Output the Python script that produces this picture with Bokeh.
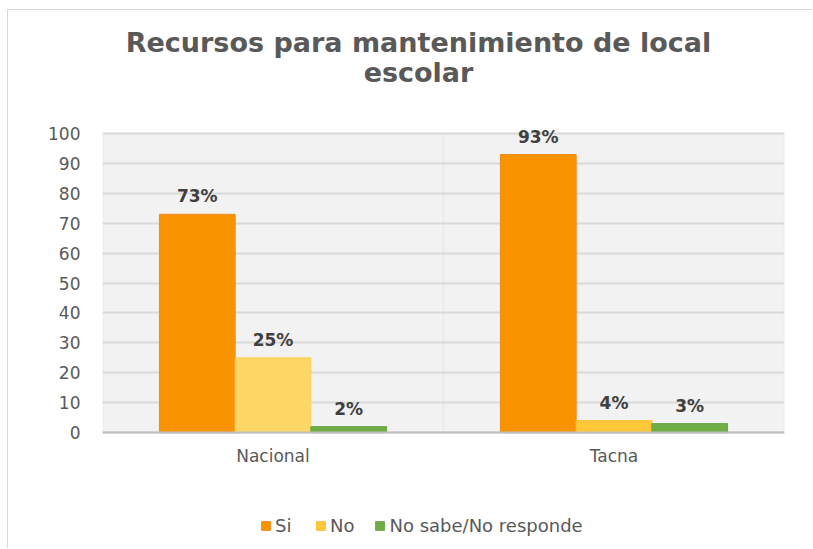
from bokeh.plotting import figure
from bokeh.models import (ColumnDataSource, FixedTicker, LabelSet, Legend, LegendItem,
                          Range1d, Label, BoxAnnotation)
from bokeh.transform import dodge
from bokeh.core.properties import value
from bokeh.embed import file_html
from bokeh.resources import INLINE

# ---- data ----
categories = ["Nacional", "Tacna"]
series_names = ["Si", "No", "No sabe/No responde"]
si_values = [73, 93]
no_values = [25, 4]
ns_values = [2, 3]
y_ticks = [0, 10, 20, 30, 40, 50, 60, 70, 80, 90, 100]
title_lines = ["Recursos para mantenimiento de local", "escolar"]

# ---- styles / layout ----
si_fill = ["#fa9300", "#fa9300"]
si_edge = ["#f38a1c", "#f38a1c"]
no_fill = ["#fdd766", "#ffc83a"]
no_edge = ["#fdd05a", "#ffc030"]
ns_fill = ["#70ad47", "#70ad47"]
ns_edge = ["#6aa743", "#6aa743"]
offsets = [-0.222, 0.0, 0.222]
bar_w = 0.222
FONT = "DejaVu Sans"
y_max = y_ticks[-1]
PX_PER_UNIT = 2.99           # 100 units = 299 px
FRAME_H = 539
Y_LOW = -39.1
Y_HIGH = Y_LOW + FRAME_H / PX_PER_UNIT
title_x = 316 / 341.0        # title centre, in category units
title_px_above_zero = [390, 360]   # baselines of the two title lines above y=0

positions = [i + 0.5 for i in range(len(categories))]

p = figure(width=805, height=539,
           x_range=Range1d(0, len(categories)), y_range=Range1d(Y_LOW, Y_HIGH),
           output_backend="svg", toolbar_location=None,
           min_border_left=94, min_border_right=29,
           min_border_top=0, min_border_bottom=0)
p.title.visible = False

p.background_fill_color = "white"
p.border_fill_color = "white"
p.outline_line_color = None

# grey plot area with border, 0..100
p.add_layout(BoxAnnotation(bottom=0, top=y_max, fill_color="#f2f2f2", fill_alpha=1,
                           line_color="#d9d9d9", line_width=2, level="image"))
# divider between categories
for b in range(1, len(categories)):
    p.add_layout(BoxAnnotation(left=b, right=b, bottom=0, top=y_max, fill_alpha=0,
                               line_color="#d9d9d9", line_width=2, level="underlay"))

p.ygrid.ticker = FixedTicker(ticks=y_ticks)
p.ygrid.grid_line_color = "#d9d9d9"
p.ygrid.grid_line_width = 2
p.xgrid.grid_line_color = None

p.yaxis.ticker = FixedTicker(ticks=y_ticks)
p.yaxis.axis_line_color = None
p.yaxis.major_tick_line_color = None
p.yaxis.minor_tick_line_color = None
p.yaxis.major_label_standoff = 16
p.yaxis.major_label_text_font = FONT
p.yaxis.major_label_text_font_size = "17px"
p.yaxis.major_label_text_color = "#595959"

p.xaxis.fixed_location = 0
p.xaxis.ticker = FixedTicker(ticks=positions)
p.xaxis.major_label_overrides = {pos: cat for pos, cat in zip(positions, categories)}
p.xaxis.axis_line_color = "#bfbfbf"
p.xaxis.axis_line_width = 2
p.xaxis.major_tick_line_color = None
p.xaxis.minor_tick_line_color = None
p.xaxis.major_label_standoff = 7
p.xaxis.major_label_text_font = FONT
p.xaxis.major_label_text_font_size = "17px"
p.xaxis.major_label_text_color = "#595959"

# title: two centred lines
for line, px in zip(title_lines, title_px_above_zero):
    p.add_layout(Label(x=title_x, y=px / PX_PER_UNIT, text=line,
                       text_align="center", text_baseline="alphabetic",
                       text_font=FONT, text_font_size="27px", text_font_style="bold",
                       text_color="#595959"))

renderers = []
for name, vals, fills, edges, off in zip(series_names,
                                          [si_values, no_values, ns_values],
                                          [si_fill, no_fill, ns_fill],
                                          [si_edge, no_edge, ns_edge],
                                          offsets):
    src = ColumnDataSource(dict(x=positions, top=vals, fill=fills, edge=edges,
                                label=[f"{v}%" for v in vals]))
    r = p.vbar(x=dodge("x", off), top="top", width=bar_w, source=src,
               fill_color="fill", line_color="edge", line_width=1)
    renderers.append(r)
    p.add_layout(LabelSet(x=dodge("x", off), y="top", text="label", source=src,
                          y_offset=8, text_align="center", text_baseline="bottom",
                          text_font=value(FONT), text_font_style="bold",
                          text_font_size="17px", text_color="#404040"))

legend = Legend(items=[LegendItem(label=series_names[0], renderers=[renderers[0]], index=0),
                       LegendItem(label=series_names[1], renderers=[renderers[1]], index=1),
                       LegendItem(label=series_names[2], renderers=[renderers[2]], index=0)],
                orientation="horizontal", location=(158, 13),
                padding=0, margin=0, spacing=20, label_standoff=4,
                glyph_width=11, glyph_height=11,
                background_fill_alpha=0, border_line_color=None,
                label_text_font=FONT, label_text_font_size="18px",
                label_text_color="#595959")
p.add_layout(legend)

p.styles = {"border-left": "1px solid #d9d9d9", "border-top": "1px solid #d9d9d9",
            "margin-left": "7px", "margin-top": "9px"}

open("out.html", "w").write(file_html(p, INLINE))
